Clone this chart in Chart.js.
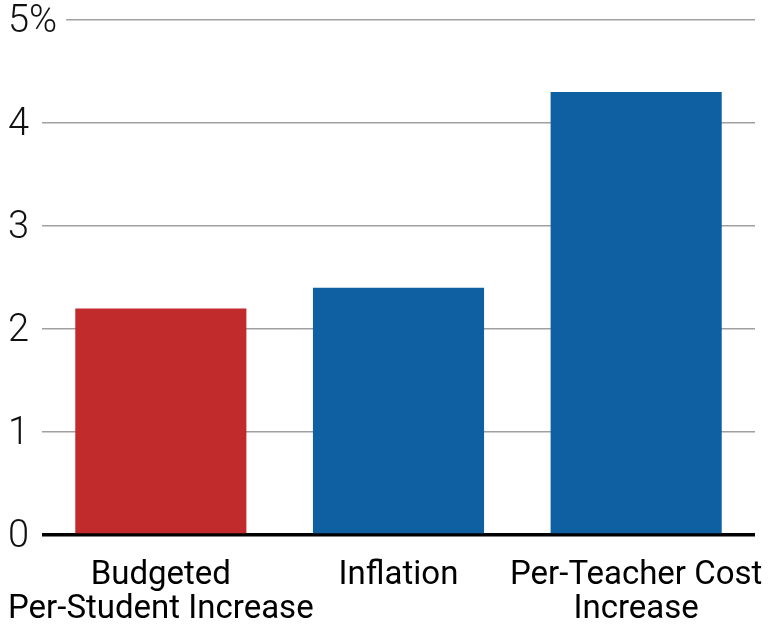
<!DOCTYPE html>
<html>
<head>
<meta charset="utf-8">
<script src="https://cdn.jsdelivr.net/npm/chart.js@4"></script>
<style>
  html, body { margin: 0; padding: 0; background: #fff; }
  canvas { display: block; }
</style>
</head>
<body>
<canvas id="chart" width="768" height="627"></canvas>
<script>
const categories = [['Budgeted', 'Per-Student Increase'], 'Inflation', ['Per-Teacher Cost', 'Increase']];
const values = [2.2, 2.4, 4.3];
const barColors = ['#c12b2b', '#0f5fa3', '#0f5fa3'];
const yTicks = [0, 1, 2, 3, 4, 5];
const yTickLabels = ['0', '1', '2', '3', '4', '5%'];

// draws the y labels on a white patch so the gridline stops short of them
const yLabelPlugin = {
  id: 'yLabels',
  afterDraw(chart) {
    const c = chart.ctx;
    const y = chart.scales.y;
    c.save();
    c.font = '300 38px Roboto';
    c.textBaseline = 'middle';
    c.textAlign = 'left';
    yTicks.forEach((v, i) => {
      const py = y.getPixelForValue(v) + 2;
      const w = c.measureText(yTickLabels[i]).width;
      c.fillStyle = '#fff';
      c.fillRect(4, py - 16, w + 13, 28);
      c.fillStyle = '#111';
      c.fillText(yTickLabels[i], 8, py);
    });
    c.restore();
  }
};

new Chart(document.getElementById('chart').getContext('2d'), {
  type: 'bar',
  data: {
    labels: categories,
    datasets: [{
      data: values,
      backgroundColor: barColors,
      borderWidth: 0,
      barPercentage: 0.72,
      categoryPercentage: 1
    }]
  },
  options: {
    responsive: false,
    animation: false,
    layout: { padding: { left: 42, right: 13, top: 20, bottom: 0 } },
    plugins: { legend: { display: false }, tooltip: { enabled: false } },
    scales: {
      x: {
        grid: { display: false },
        border: { display: false },
        ticks: {
          color: '#000',
          font: { family: 'Roboto', size: 33, lineHeight: 1.05 },
          maxRotation: 0,
          autoSkip: false,
          padding: 15
        },
        afterFit(scale) {
          scale.height = 92;
          scale.paddingLeft = 0;
          scale.paddingRight = 0;
        }
      },
      y: {
        min: 0,
        max: 5,
        afterBuildTicks(scale) { scale.ticks = yTicks.map(v => ({ value: v })); },
        ticks: { display: false },
        border: { display: false },
        grid: {
          drawTicks: false,
          color: ctx => ctx.tick && ctx.tick.value === 0 ? '#000' : '#a0a0a0',
          lineWidth: ctx => ctx.tick && ctx.tick.value === 0 ? 3.5 : 1.5
        },
        afterFit(scale) {
          scale.width = 0;
          scale.paddingTop = 0;
          scale.paddingBottom = 0;
        }
      }
    }
  },
  plugins: [yLabelPlugin]
});
</script>
</body>
</html>
